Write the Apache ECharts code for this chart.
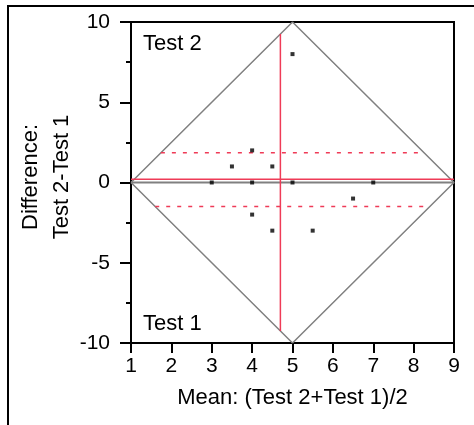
<!DOCTYPE html>
<html>
<head>
<meta charset="utf-8">
<script src="https://cdn.jsdelivr.net/npm/echarts@6/dist/echarts.min.js"></script>
<style>html,body{margin:0;padding:0;background:#fff}#c{width:474px;height:425px}</style>
</head>
<body>
<div id="c"></div>
<script>
// Data
var meanX = [3, 3.5, 4, 4, 4, 4.5, 4.5, 5, 5, 5.5, 6.5, 7];
var diffY = [0, 1, 2, 0, -2, 1, -3, 8, 0, -3, -1, 0];
var diamondX = [1, 5, 9, 5, 1];
var diamondY = [0, 10, 0, -10, 0];
var meanDiff = 0.2;
var upperLimit = 1.85;
var lowerLimit = -1.5;
var meanOfMeans = 4.7;
var xTicks = [1, 2, 3, 4, 5, 6, 7, 8, 9];
var yTicks = [-10, -5, 0, 5, 10];

var FONT = 'Liberation Sans, Arial, sans-serif';
var RED = '#ef3b57';
var GRAY = '#808080';

function xSpan(y) { var h = 4 * (1 - Math.abs(y) / 10); return [5 - h, 5 + h]; }
function ySpan(x) { return 10 - 2.5 * Math.abs(x - 5); }

var pts = meanX.map(function (x, i) { return [x, diffY[i]]; });
var diamond = diamondX.map(function (x, i) { return [x, diamondY[i]]; });
var up = xSpan(upperLimit), lo = xSpan(lowerLimit);
var vy = ySpan(meanOfMeans);

var chart = echarts.init(document.getElementById('c'));
chart.setOption({
  animation: false,
  grid: { left: 131, top: 22, right: 20, bottom: 82, show: true, borderColor: '#000', borderWidth: 2 },
  xAxis: {
    type: 'value', min: xTicks[0], max: xTicks[xTicks.length - 1], interval: 1,
    name: 'Mean: (Test 2+Test 1)/2', nameLocation: 'middle', nameGap: 44,
    nameTextStyle: { fontFamily: FONT, fontSize: 22, color: '#000' },
    axisLine: { onZero: false, lineStyle: { color: '#000', width: 2 } },
    axisTick: { inside: false, length: 10, lineStyle: { color: '#000', width: 2 } },
    axisLabel: { margin: 13, fontFamily: FONT, fontSize: 21, color: '#000' },
    splitLine: { show: false }
  },
  yAxis: {
    type: 'value', min: yTicks[0], max: yTicks[yTicks.length - 1], interval: 5,
    axisLine: { onZero: false, lineStyle: { color: '#000', width: 2 } },
    axisTick: { length: 11, lineStyle: { color: '#000', width: 2 } },
    minorTick: { show: true, splitNumber: 2, length: 5, lineStyle: { color: '#000', width: 2 } },
    axisLabel: { margin: 21, fontFamily: FONT, fontSize: 21, color: '#000' },
    splitLine: { show: false }
  },
  series: [
    { type: 'line', data: diamond, symbol: 'none', lineStyle: { color: GRAY, width: 1.5 }, z: 2 },
    { type: 'line', data: [[1, 0], [9, 0]], symbol: 'none', lineStyle: { color: GRAY, width: 2 }, z: 2 },
    { type: 'line', data: [[1, meanDiff], [9, meanDiff]], symbol: 'none', lineStyle: { color: RED, width: 1.5 }, z: 3 },
    { type: 'line', data: [[up[0], upperLimit], [up[1], upperLimit]], symbol: 'none', lineStyle: { color: RED, width: 1.5, type: [4, 7] }, z: 3 },
    { type: 'line', data: [[lo[0], lowerLimit], [lo[1], lowerLimit]], symbol: 'none', lineStyle: { color: RED, width: 1.5, type: [4, 7] }, z: 3 },
    { type: 'line', data: [[meanOfMeans, -vy], [meanOfMeans, vy]], symbol: 'none', lineStyle: { color: RED, width: 1.5 }, z: 3 },
    { type: 'scatter', data: pts, symbol: 'rect', symbolSize: 4, itemStyle: { color: '#000' }, z: 5 }
  ],
  graphic: [
    { type: 'rect', shape: { x: 8, y: 6, width: 700, height: 700 }, style: { fill: 'none', stroke: '#000', lineWidth: 2 }, silent: true },
    { type: 'text', x: 143, y: 33, style: { text: 'Test 2', font: '22px ' + FONT, fill: '#000' } },
    { type: 'text', x: 143, y: 313, style: { text: 'Test 1', font: '22px ' + FONT, fill: '#000' } },
    { type: 'text', x: 46, y: 177, rotation: Math.PI / 2,
      style: { text: 'Difference:\nTest 2-Test 1', font: '22px ' + FONT, fill: '#000', align: 'center', verticalAlign: 'middle', lineHeight: 31 } }
  ]
});
</script>
</body>
</html>
